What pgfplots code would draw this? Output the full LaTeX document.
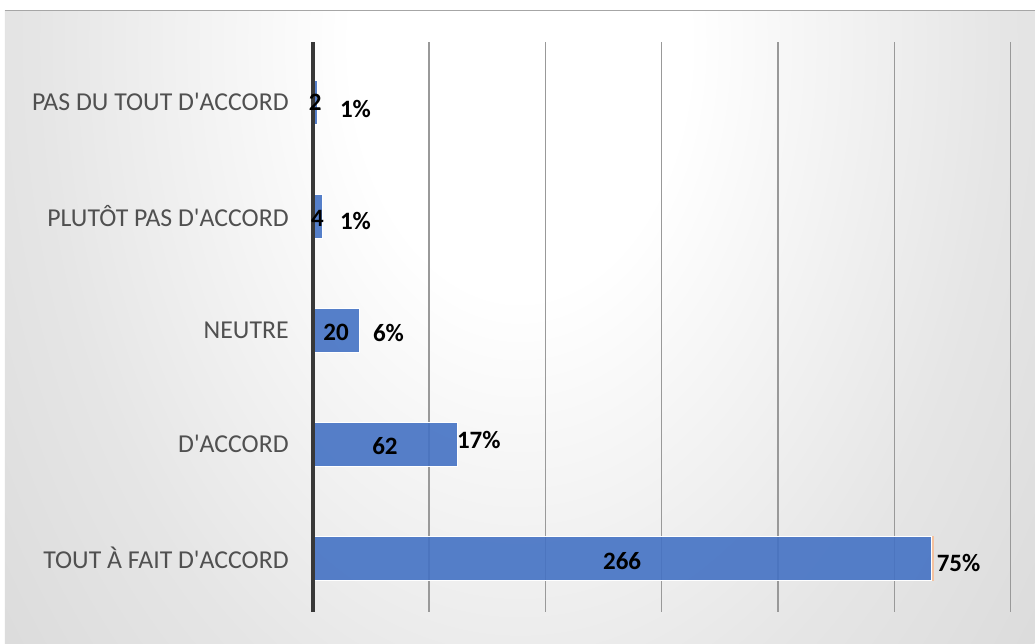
\documentclass[border=0pt]{standalone}
\usepackage{pgfplots}
\pgfplotsset{compat=1.18}
\usepackage{fontspec}
\setmainfont{Carlito}
\definecolor{barblue}{RGB}{68,114,196}
\definecolor{barorange}{RGB}{244,194,160}
\definecolor{lab}{RGB}{80,80,80}
\newcommand\ap{\textquotesingle}
\pgfdeclareradialshading{bgshade}{\pgfpointorigin}{color(0bp)=(white); color(7bp)=(white); color(20bp)=(black!10); color(33bp)=(black!17); color(43bp)=(black!21); color(55bp)=(black!24); color(100bp)=(black!25)}
\tikzset{dl/.style={font=\fontsize{25}{29}\selectfont\bfseries, text=black, inner sep=0pt}}
\pgfplotsset{frame/.style={at={(313pt,32pt)}, anchor=south west,
  scale only axis, width=698pt, height=570pt,
  xmin=0, xmax=300, ymin=-0.47, ymax=4.53, clip=false}}
\begin{document}
\begin{tikzpicture}[x=1pt,y=1pt]
\fill[white] (0,0) rectangle (1035,644);
\begin{scope}
\clip (5,0) rectangle (1035,633);
\shade[shading=bgshade] (-80,-300) rectangle (1120,1500);
\end{scope}
\draw[black!35, line width=1pt] (5,633) -- (1035,633);
\begin{axis}[
  frame,
  xbar stacked, bar width=44pt,
  xtick={50,100,...,300}, xticklabels={},
  xmajorgrids, grid style={black!40, line width=1.4pt},
  ytick={0,1,2,3,4},
  yticklabels={TOUT À FAIT D\ap ACCORD, D\ap ACCORD, NEUTRE, PLUTÔT PAS D\ap ACCORD, PAS DU TOUT D\ap ACCORD},
  yticklabel style={font=\fontsize{25.8}{29}\selectfont, text=lab, inner sep=0pt, xshift=-24pt},
  major tick length=0pt,
  axis line style={draw=none},
]
\addplot[fill=barblue, fill opacity=0.9, draw=white, line width=0.8pt] coordinates {(266,0) (62,1) (20,2) (4,3) (2,4)};
\addplot[fill=barorange, draw=barorange, line width=0.8pt] coordinates {(0.75,0) (0.17,1) (0.06,2) (0.01,3) (0.01,4)};
\end{axis}
\begin{axis}[frame, hide axis]
\draw[black!78, line width=3.5pt] (rel axis cs:0,0) -- (rel axis cs:0,1);
\node[dl] at (axis cs:133,0) [yshift=-3pt] {266};
\node[dl] at (axis cs:31,1) [yshift=-2pt] {62};
\node[dl] at (axis cs:10,2) [yshift=-2pt] {20};
\node[dl] at (axis cs:2,3) [yshift=-2pt] {4};
\node[dl] at (axis cs:1,4) [yshift=0pt] {2};
\node[dl, anchor=west] at (axis cs:268.2,0) [yshift=-5pt] {75\%};
\node[dl, anchor=west] at (axis cs:61.9,1) [yshift=4pt] {17\%};
\node[dl, anchor=west] at (axis cs:25.8,2) [yshift=-3pt] {6\%};
\node[dl, anchor=west] at (axis cs:11.6,3) [yshift=-5pt] {1\%};
\node[dl, anchor=west] at (axis cs:11.6,4) [yshift=-7pt] {1\%};
\end{axis}
\end{tikzpicture}
\end{document}
